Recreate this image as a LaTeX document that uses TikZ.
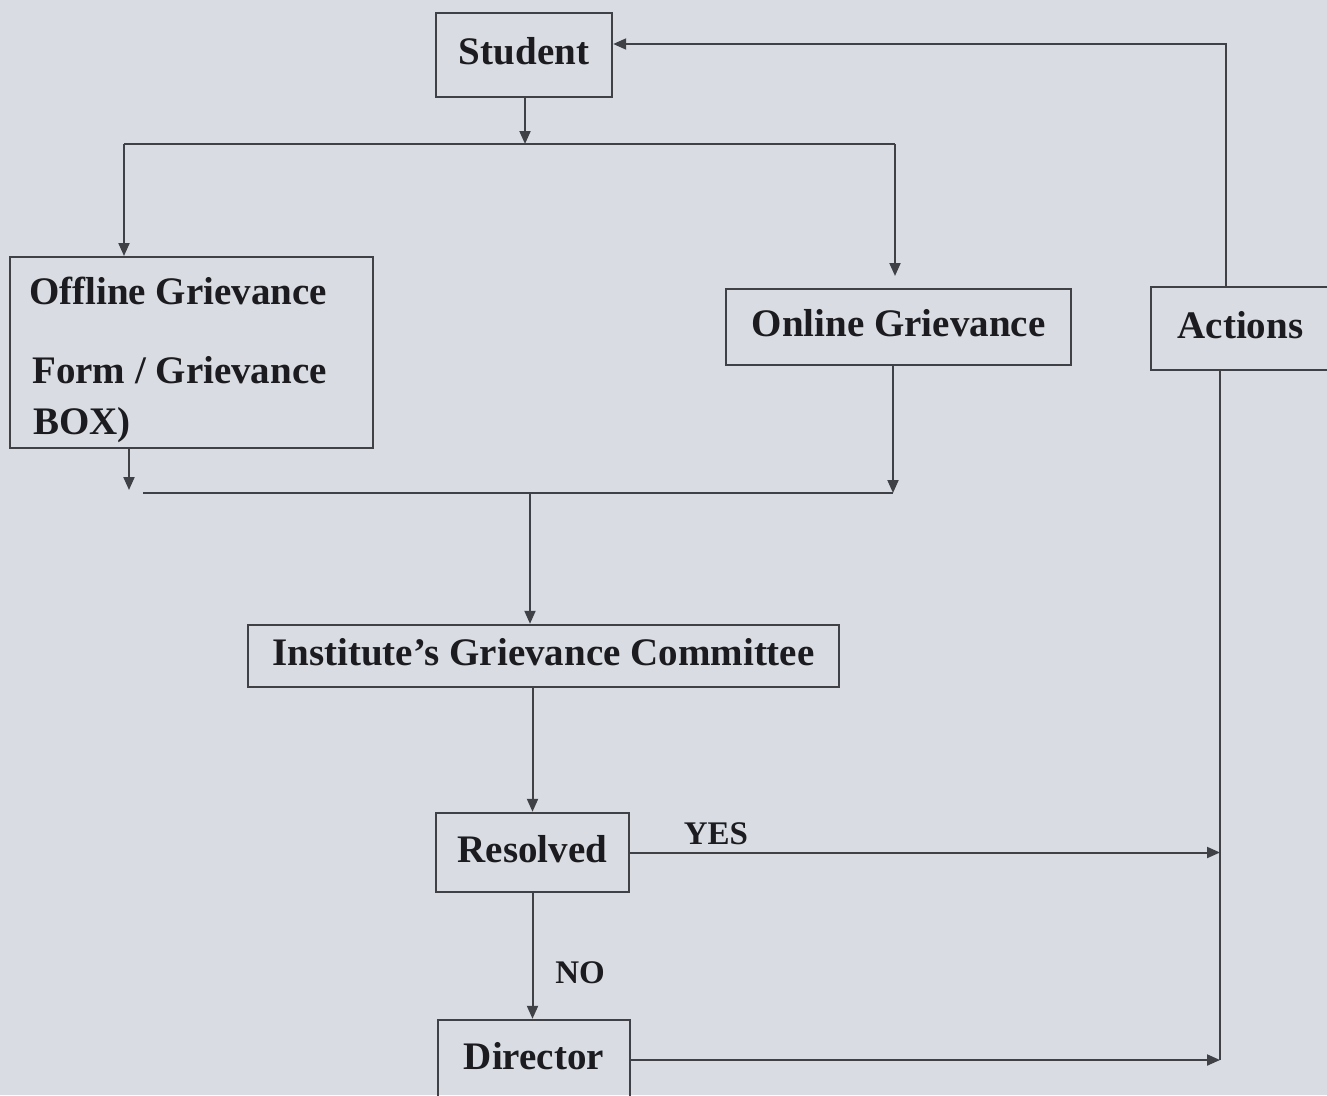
\documentclass[tikz,border=0pt]{standalone}
\usepackage{fontspec}
\setmainfont{Liberation Serif}
\usetikzlibrary{arrows.meta}
\definecolor{bg}{HTML}{D9DCE3}
\definecolor{ln}{HTML}{3F4147}
\definecolor{tx}{HTML}{1C1C20}
\begin{document}
\begin{tikzpicture}[x=1pt,y=-1pt,
  box/.style={draw=ln, line width=2.4pt, inner sep=0pt, text=tx,
    font=\fontsize{39}{46}\selectfont\bfseries, text height=27pt, text depth=8pt},
  txt/.style={inner sep=0pt, text=tx, font=\fontsize{39}{46}\selectfont\bfseries},
  lbl/.style={inner sep=0pt, text=tx, font=\fontsize{33}{40}\selectfont\bfseries},
  con/.style={draw=ln, line width=2pt},
  arr/.style={con, -{Triangle[length=13pt,width=11pt]}}]
\path[use as bounding box] (0,0) rectangle (1327,1095);
\fill[bg] (0,0) rectangle (1327,1095);

% boxes
\node[box, minimum width=176pt, minimum height=84pt] (stu) at (524,55) {Student};
\node[box, minimum width=363pt, minimum height=191pt, anchor=north west] (off) at (9,256) {};
\node[txt, anchor=base west] (offa) at (29,304) {Offline Grievance};
\node[txt, anchor=base west] (offb) at (32,383) {Form / Grievance};
\node[txt, anchor=base west] (offc) at (33,434) {BOX)};
\node[box, minimum width=345pt, minimum height=76pt] (on) at (898.5,327) {Online Grievance};
\node[box, minimum width=179pt, minimum height=83pt] (act) at (1240.5,328.5) {Actions};
\node[box, minimum width=591pt, minimum height=62pt] (inst) at (543.5,656) {Institute’s Grievance Committee};
\node[box, minimum width=193pt, minimum height=79pt] (res) at (532.5,852.5) {Resolved};
\node[box, minimum width=192pt, minimum height=80pt] (dir) at (534,1060) {Director};

% labels
\node[lbl] (yes) at (716,834) {YES};
\node[lbl] (no) at (580,973) {NO};

% junction coordinates
\coordinate (j1) at (525,144);
\coordinate (j1l) at (124,144);
\coordinate (j1r) at (895,144);
\coordinate (onin) at (895,276);
\coordinate (offx) at (129,490);
\coordinate (j2l) at (143,493);
\coordinate (j2r) at (893,493);
\coordinate (j2m) at (530,493);
\coordinate (actv) at (1220,0);
\coordinate (topr) at (1226,44);

% Student split
\draw[arr] (stu.south -| j1) -- (j1);
\draw[con] (j1l) -- (j1r);
\draw[arr] (j1l) -- (j1l |- off.north);
\draw[arr] (j1r) -- (onin);

% merge
\draw[arr] (offx |- off.south) -- (offx);
\draw[con] (j2l) -- (j2r);
\draw[arr] (j2r |- on.south) -- (j2r);
\draw[arr] (j2m) -- (j2m |- inst.north);

% committee to resolved
\draw[arr] (res.north |- inst.south) -- (res.north);

% resolved branches
\draw[arr] (res.east) -- (res.east -| actv);
\draw[arr] (res.south) -- (res.south |- dir.north);
\draw[arr] (dir.east) -- (dir.east -| actv);

% actions column
\draw[con] (actv |- act.south) -- (actv |- dir.east);
\draw[arr] (topr |- act.north) -- (topr) -- (topr -| stu.east);
\end{tikzpicture}
\end{document}
